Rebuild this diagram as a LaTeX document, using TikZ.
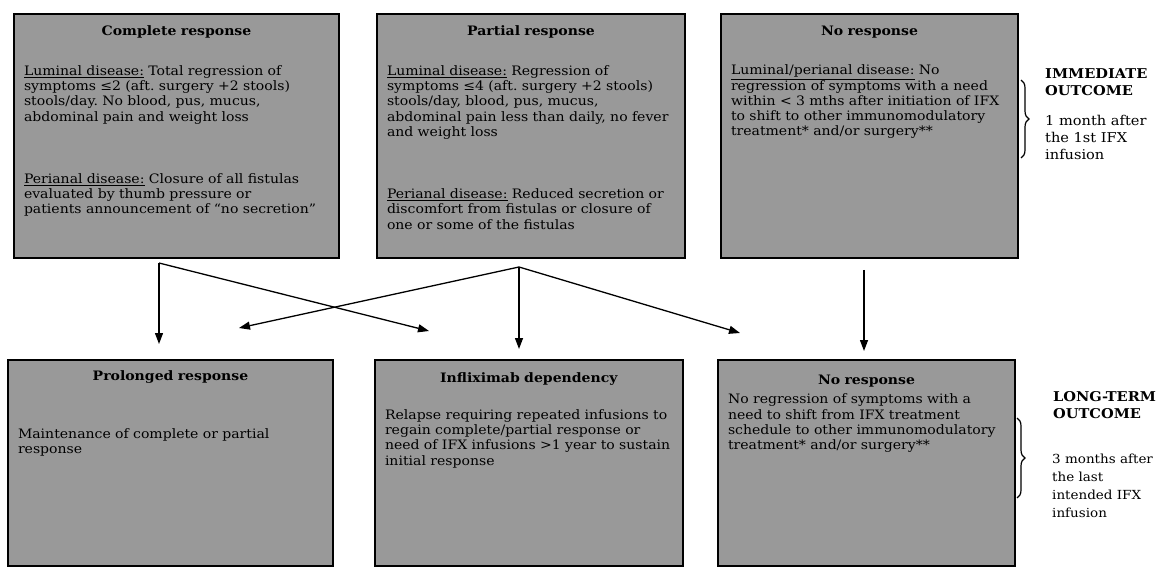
\documentclass[tikz,border=0pt]{standalone}
\usepackage{fontspec}
\setmainfont{DejaVu Serif}[FakeStretch=1.08]
\usepackage{tikz}
\usetikzlibrary{arrows.meta}
\usetikzlibrary{decorations.pathreplacing}
\usetikzlibrary{positioning}
\definecolor{boxgray}{gray}{0.6}
\tikzstyle{outbox} = [rectangle, draw=black, line width=1.3pt, fill=boxgray, inner xsep=10pt, inner ysep=8pt, font=\fontsize{13pt}{15.3pt}\selectfont\frenchspacing]
\tikzstyle{sidetext} = [anchor=west, align=left, inner sep=0pt, font=\fontsize{13.5pt}{17pt}\selectfont]
\tikzstyle{arrow} = [line width=1.3pt, -{Triangle[length=11pt,width=8pt]}]
\tikzstyle{bracket} = [line width=1.2pt, decorate, decoration={brace, amplitude=8pt}]

\begin{document}
\begin{tikzpicture}[x=1pt, y=-1pt]
\useasboundingbox (0,0) rectangle (1156,569);

% immediate outcome
\node (i1) [outbox, text width=305pt] at (176.5,136) {\parbox[t][228pt][t]{\linewidth}{\vspace*{4pt}\centering\textbf{Complete response}\par\vspace{24pt}\raggedright
\underline{Luminal disease:} Total regression of\\ symptoms ≤2 (aft. surgery +2 stools)\\ stools/day. No blood, pus, mucus,\\ abdominal pain and weight loss\par\vspace{47pt}
\underline{Perianal disease:} Closure of all fistulas\\ evaluated by thumb pressure or\\ patients announcement of “no secretion”}};
\node (i2) [outbox, text width=288pt] at (531,136) {\parbox[t][228pt][t]{\linewidth}{\vspace*{4pt}\centering\textbf{Partial response}\par\vspace{24pt}\raggedright
\underline{Luminal disease:} Regression of\\ symptoms ≤4 (aft. surgery +2 stools)\\ stools/day, blood, pus, mucus,\\ abdominal pain less than daily, no fever\\ and weight loss\par\vspace{47pt}
\underline{Perianal disease:} Reduced secretion or\\ discomfort from fistulas or closure of\\ one or some of the fistulas}};
\node (i3) [outbox, text width=277pt] at (869.5,136) {\parbox[t][228pt][t]{\linewidth}{\vspace*{4pt}\centering\textbf{No response}\par\vspace{24pt}\raggedright
\underline{Luminal/perianal disease:} No\\ regression of symptoms with a need\\ within < 3 mths after initiation of IFX\\ to shift to other immunomodulatory\\ treatment* and/or surgery**}};

% long-term outcome
\node (l1) [outbox, text width=305pt] at (170.5,463) {\parbox[t][190pt][t]{\linewidth}{\vspace*{3pt}\centering\textbf{Prolonged response}\par\vspace{42pt}\raggedright
Maintenance of complete or partial\\ response}};
\node (l2) [outbox, text width=288pt] at (529,463) {\parbox[t][190pt][t]{\linewidth}{\vspace*{5pt}\centering\textbf{Infliximab dependency}\par\vspace{21pt}\raggedright
Relapse requiring repeated infusions to\\ regain complete/partial response or\\ need of IFX infusions >1 year to sustain\\ initial response}};
\node (l3) [outbox, text width=277pt] at (866.5,463) {\parbox[t][190pt][t]{\linewidth}{\vspace*{7pt}\centering\textbf{No response}\par\vspace{4pt}\raggedright
No regression of symptoms with a\\ need to shift from IFX treatment\\ schedule to other immunomodulatory\\ treatment* and/or surgery**}};

% time labels
\node (imm) [sidetext] at (1045,82) {\textbf{IMMEDIATE}\\\textbf{OUTCOME}};
\node (immnote) [sidetext] at (1045,137) {1 month after\\the 1st IFX\\infusion};
\node (long) [sidetext] at (1053,405) {\textbf{LONG-TERM}\\\textbf{OUTCOME}};
\node (longnote) [sidetext, font=\fontsize{12.5pt}{18pt}\selectfont] at (1052,486) {3 months after\\the last\\intended IFX\\infusion};

\coordinate (c1) at (159,263);
\coordinate (c2) at (519,267);
\coordinate (c3) at (864,270);
\coordinate (t1) at (159,344);
\coordinate (t2) at (239,328);
\coordinate (t3) at (429,331);
\coordinate (t4) at (519,349);
\coordinate (t5) at (740,333);
\coordinate (t6) at (864,351);

\draw [arrow] (c1) -- (t1);
\draw [arrow] (c1) -- (t3);
\draw [arrow] (c2) -- (t2);
\draw [arrow] (c2) -- (t4);
\draw [arrow] (c2) -- (t5);
\draw [arrow] (c3) -- (t6);

\coordinate (b1) at (1021,80);
\coordinate (b2) at (1021,158);
\coordinate (b3) at (1017,418);
\coordinate (b4) at (1017,498);
\draw [bracket] (b1) -- (b2);
\draw [bracket] (b3) -- (b4);
\end{tikzpicture}
\end{document}
